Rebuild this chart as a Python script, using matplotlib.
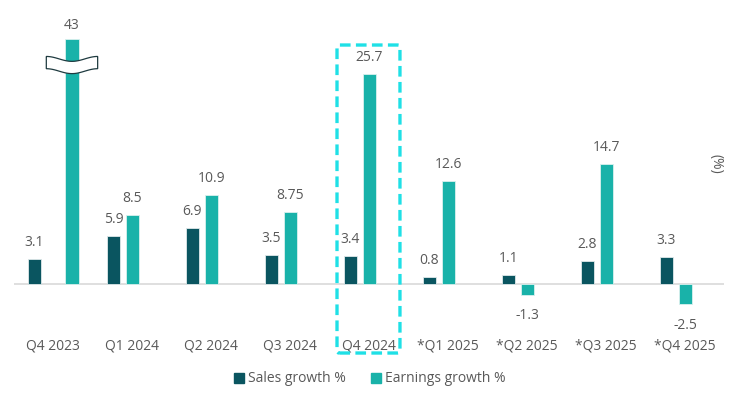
import numpy as np
import matplotlib
matplotlib.use("Agg")
import matplotlib.pyplot as plt
from matplotlib.patches import Polygon, FancyBboxPatch, Patch

categories = ["Q4 2023", "Q1 2024", "Q2 2024", "Q3 2024", "Q4 2024",
              "*Q1 2025", "*Q2 2025", "*Q3 2025", "*Q4 2025"]
sales = [3.1, 5.9, 6.9, 3.5, 3.4, 0.8, 1.1, 2.8, 3.3]
earnings = [43, 8.5, 10.9, 8.75, 25.7, 12.6, -1.3, 14.7, -2.5]
sales_labels = ["3.1", "5.9", "6.9", "3.5", "3.4", "0.8", "1.1", "2.8", "3.3"]
earn_labels = ["43", "8.5", "10.9", "8.75", "25.7", "12.6", "-1.3", "14.7", "-2.5"]
highlight = "Q4 2024"
cap = 30.0  # broken-axis display cap

C_SALES = "#0a5560"
C_EARN = "#19b2a9"
C_TEXT = "#595959"

plt.rcParams['font.family'] = ['Open Sans', 'DejaVu Sans']

fig = plt.figure(figsize=(7.38, 3.94), dpi=100)
ax = fig.add_axes([14/738, 1 - 333/394, 710/738, 333/394])
ax.set_xlim(-0.494, 8.494)
ax.set_ylim(-6, 34.76)

x = np.arange(len(categories))
w = 0.172
sx = x - 0.235
ex = (x + 0.005).astype(float)
ex[0] = x[0] + 0.24  # broken bar sits further right

eh = [min(v, cap) for v in earnings]
ax.bar(sx, sales, width=w, color=C_SALES, edgecolor="#dfe9ea", linewidth=0.6, zorder=3)
ax.bar(ex, eh, width=w, color=C_EARN, edgecolor="#d9f0ee", linewidth=0.6, zorder=3)
ax.axhline(0, color="#d9d9d9", lw=1.2, zorder=2)

for xi, v, t in zip(sx, sales, sales_labels):
    ax.annotate(t, (xi, v), xytext=(0, 6.5), textcoords="offset points",
                ha="center", va="bottom", fontsize=10, color=C_TEXT)
for xi, v, t in zip(ex, eh, earn_labels):
    if v >= 0:
        off = 4.5 if v >= cap else 6.5
        ax.annotate(t, (xi, v), xytext=(0, off), textcoords="offset points",
                    ha="center", va="bottom", fontsize=10, color=C_TEXT)
    else:
        ax.annotate(t, (xi, v), xytext=(0, -9.5), textcoords="offset points",
                    ha="center", va="top", fontsize=10, color=C_TEXT)

# break marker on the capped bar
bx = ex[0]
hw = 0.325
tt = np.linspace(-1, 1, 80)
xs = bx + hw * tt
amp = 0.3
yc = 26.8
wave = -amp * np.sin(np.pi * (tt + 0.5))
top = yc + 0.75 + wave
bot = yc - 0.75 + wave
verts = np.vstack([np.column_stack([xs, top]), np.column_stack([xs[::-1], bot[::-1]])])
ax.add_patch(Polygon(verts, closed=True, facecolor="white", edgecolor="#1f3b40",
                     lw=0.9, zorder=5))

# highlight box
hi = categories.index(highlight)
box = FancyBboxPatch((hi - 0.405, -8.45), 0.797, 29.25 + 8.45,
                     boxstyle="round,pad=0,rounding_size=0.03",
                     fill=False, edgecolor="#1fe0e6", lw=2.4,
                     linestyle=(0, (3.2, 1.6)), clip_on=False, zorder=6,
                     mutation_aspect=10)
ax.add_patch(box)

ax.set_xticks(x)
ax.set_xticklabels(categories, fontsize=10, color=C_TEXT)
ax.tick_params(axis="x", length=0, pad=4)
ax.set_yticks([])
for s in ax.spines.values():
    s.set_visible(False)

fig.text(716/738, 1 - 164/394, "(%)", rotation=270, ha="center", va="center",
         fontsize=10, color=C_TEXT)

handles = [Patch(color=C_SALES, label="Sales growth %"),
           Patch(color=C_EARN, label="Earnings growth %")]
fig.legend(handles=handles, loc="center", bbox_to_anchor=(370/738, 1 - 379/394),
           ncol=2, frameon=False, fontsize=10, handlelength=0.7, handleheight=0.7,
           handletextpad=0.3, columnspacing=1.8, labelcolor=C_TEXT)

fig.savefig("out.png", dpi=100)
